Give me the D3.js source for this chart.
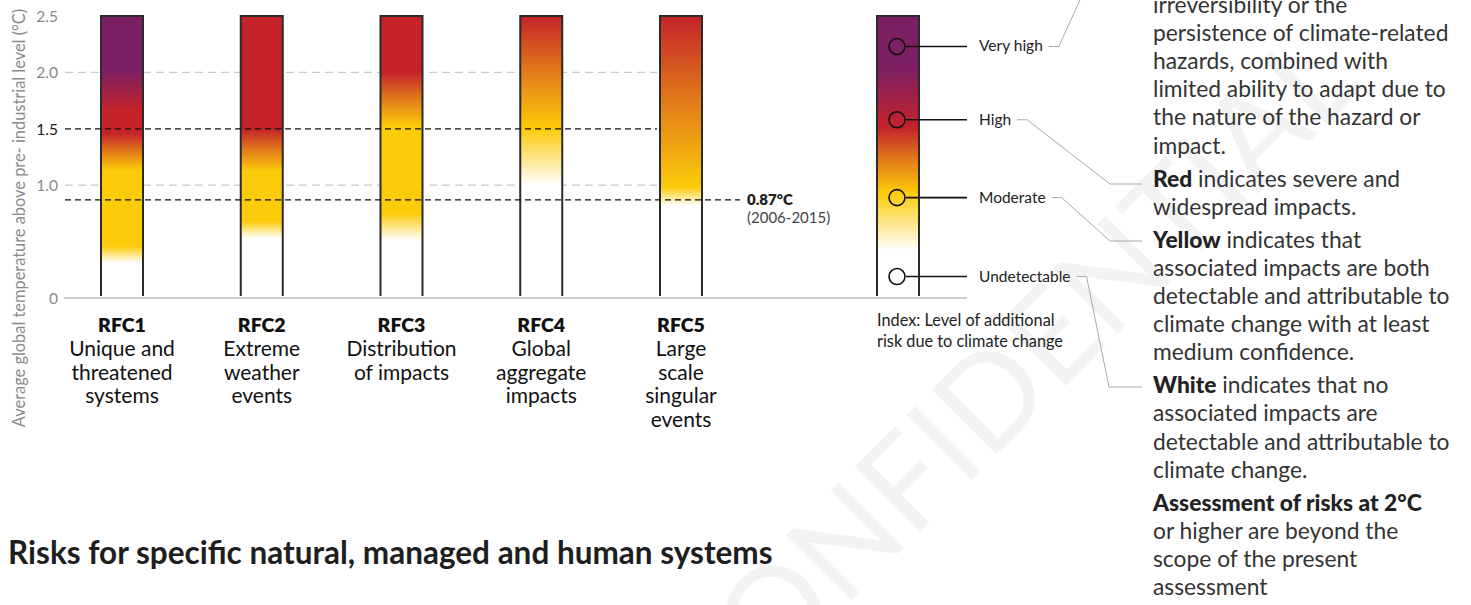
<!DOCTYPE html>
<html>
<head>
<meta charset="utf-8">
<script src="https://cdn.jsdelivr.net/npm/d3@7"></script>
<style>
html, body { margin: 0; padding: 0; background: #fff; }
svg { display: block; font-family: Lato, "Noto Sans", sans-serif; }
</style>
</head>
<body>
<svg id="chart" width="1471" height="605"></svg>
<script>
// categories and their labels
var categories = ["RFC1", "RFC2", "RFC3", "RFC4", "RFC5"];
var categoryLines = [
    ["Unique and", "threatened", "systems"],
    ["Extreme", "weather", "events"],
    ["Distribution", "of impacts"],
    ["Global", "aggregate", "impacts"],
    ["Large", "scale", "singular", "events"]
];

// risk transitions per RFC: [temperature °C, risk level]
// level 0 = white (undetectable), 1 = yellow, 2 = red, 3 = purple
var rfc1Stops = [[0.31, 0], [0.46, 1], [1.13, 1], [1.46, 2], [1.66, 2], [2.02, 3], [2.5, 3]];
var rfc2Stops = [[0.53, 0], [0.68, 1], [1.12, 1], [1.5, 2], [2.5, 2]];
var rfc3Stops = [[0.51, 0], [0.75, 1], [1.52, 1], [2.0, 2], [2.5, 2]];
var rfc4Stops = [[1.0, 0], [1.5, 1], [2.5, 2]];
var rfc5Stops = [[0.82, 0], [0.98, 1], [2.5, 2]];
var rfcStops = [rfc1Stops, rfc2Stops, rfc3Stops, rfc4Stops, rfc5Stops];

// y axis
var yTicks = [0, 1.0, 1.5, 2.0, 2.5];
var greyLines = [1.0, 2.0];
var blackLines = [1.5, 0.87];
var recentWarming = 0.87;

// index legend
var legendLabels = ["Very high", "High", "Moderate", "Undetectable"];
var legendValues = [2.23, 1.58, 0.89, 0.19];
var legendStops = [[0.42, 0], [0.93, 1], [1.51, 2], [2.04, 3], [2.5, 3]];

// explanation text on the right
var notes = [
    { bold: "", lines: ["irreversibility or the", "persistence of climate-related", "hazards, combined with", "limited ability to adapt due to", "the nature of the hazard or", "impact."] },
    { bold: "Red", lines: [" indicates severe and", "widespread impacts."] },
    { bold: "Yellow", lines: [" indicates that", "associated impacts are both", "detectable and attributable to", "climate change with at least", "medium confidence."] },
    { bold: "White", lines: [" indicates that no", "associated impacts are", "detectable and attributable to", "climate change."] },
    { bold: "Assessment of risks at 2°C", lines: ["", "or higher are beyond the", "scope of the present", "assessment"] }
];

var svg = d3.select("#chart");

var y = d3.scaleLinear().domain([0, 2.5]).range([298, 16]);
var x = d3.scalePoint().domain(categories).range([122, 681]);
var barW = 42;
var legendX = 898;

var levelColor = d3.scaleLinear()
    .domain([0, 1, 1.5, 2, 3])
    .range(["#ffffff", "#fccb0a", "#e27c1a", "#c4232a", "#7c1f63"]);

// watermark
svg.append("text")
    .attr("transform", "translate(1003,378) rotate(-45)")
    .attr("text-anchor", "middle")
    .attr("dominant-baseline", "central")
    .style("font-size", "128px")
    .style("font-weight", 400)
    .style("fill", "#f3f3f3")
    .text("CONFIDENTIAL");

var defs = svg.append("defs");

function makeGradient(id, stops) {
    var g = defs.append("linearGradient")
        .attr("id", id)
        .attr("gradientUnits", "userSpaceOnUse")
        .attr("x1", 0).attr("x2", 0)
        .attr("y1", y(0)).attr("y2", y(2.5));
    var pts = [];
    stops.forEach(function(s, i) {
        if (i === 0) { pts.push(s); return; }
        var p = stops[i - 1];
        for (var k = 1; k <= 6; k++) {
            var f = k / 6;
            pts.push([p[0] + (s[0] - p[0]) * f, p[1] + (s[1] - p[1]) * f]);
        }
    });
    g.selectAll("stop").data(pts).enter().append("stop")
        .attr("offset", function(d) { return d[0] / 2.5; })
        .attr("stop-color", function(d) { return levelColor(d[1]); });
}

rfcStops.forEach(function(s, i) { makeGradient("grad" + i, s); });
makeGradient("gradLegend", legendStops);

// grey dashed gridlines
svg.append("g").selectAll("line").data(greyLines).enter().append("line")
    .attr("x1", 65).attr("x2", 657)
    .attr("y1", function(d) { return y(d); })
    .attr("y2", function(d) { return y(d); })
    .attr("stroke", "#c9c9c9")
    .attr("stroke-width", 1.2)
    .attr("stroke-dasharray", "8,5");

// baseline
svg.append("line")
    .attr("x1", 64).attr("x2", 967)
    .attr("y1", y(0)).attr("y2", y(0))
    .attr("stroke", "#bdbdbd").attr("stroke-width", 1.5);

// bars
var bars = svg.append("g").selectAll("g").data(categories).enter().append("g");
bars.append("rect")
    .attr("x", function(d) { return x(d) - barW / 2; })
    .attr("y", y(2.5))
    .attr("width", barW)
    .attr("height", y(0) - 2 - y(2.5))
    .attr("fill", function(d, i) { return "url(#grad" + i + ")"; });
bars.append("path")
    .attr("d", function(d) {
        var x0 = x(d) - barW / 2, x1 = x(d) + barW / 2;
        return "M" + x0 + "," + (y(0) - 2) + "V" + y(2.5) + "H" + x1 + "V" + (y(0) - 2);
    })
    .attr("fill", "none").attr("stroke", "#2b2b2b").attr("stroke-width", 2);

// black dashed reference lines
svg.append("g").selectAll("line").data(blackLines).enter().append("line")
    .attr("x1", 65)
    .attr("x2", function(d) { return d === recentWarming ? 740 : 657; })
    .attr("y1", function(d) { return y(d); })
    .attr("y2", function(d) { return y(d); })
    .attr("stroke", "#111")
    .attr("stroke-width", 1.3)
    .attr("stroke-dasharray", "6,4");

svg.append("text")
    .attr("x", 747).attr("y", y(recentWarming) + 5)
    .style("font-size", "15px").style("font-weight", 800).style("fill", "#222")
    .text(recentWarming + "°C");
svg.append("text")
    .attr("x", 747).attr("y", y(recentWarming) + 23)
    .style("font-size", "15px").style("fill", "#444")
    .text("(2006-2015)");

// y axis
var yAxis = svg.append("g")
    .attr("transform", "translate(58,0)")
    .call(d3.axisLeft(y).tickValues(yTicks).tickSize(0).tickPadding(0)
        .tickFormat(function(d) { return d === 0 ? "0" : d3.format(".1f")(d); }));
yAxis.select(".domain").remove();
yAxis.selectAll("text")
    .attr("dy", "0.35em")
    .style("font-family", "Lato, sans-serif")
    .style("font-size", "15.5px")
    .style("fill", function(d) { return d === 1.5 ? "#1a1a1a" : "#8a8a8a"; });

svg.append("text")
    .attr("transform", "translate(25,218) rotate(-90)")
    .attr("text-anchor", "middle")
    .style("font-size", "16.4px").style("fill", "#8a8a8a")
    .text("Average global  temperature above pre- industrial level (°C)");

// category labels
var labels = svg.append("g").selectAll("text").data(categories).enter().append("text")
    .attr("text-anchor", "middle")
    .style("fill", "#111");
labels.append("tspan")
    .attr("x", function(d) { return x(d); })
    .attr("y", 332)
    .style("font-weight", 800).style("font-size", "19.5px")
    .text(function(d) { return d; });
labels.each(function(d, i) {
    var t = d3.select(this);
    categoryLines[i].forEach(function(line, j) {
        t.append("tspan")
            .attr("x", x(d))
            .attr("y", 356 + j * 23.5)
            .style("font-size", "21px")
            .text(line);
    });
});

// index legend bar
svg.append("rect")
    .attr("x", legendX - barW / 2).attr("y", y(2.5))
    .attr("width", barW).attr("height", y(0) - 2 - y(2.5))
    .attr("fill", "url(#gradLegend)");
svg.append("path")
    .attr("d", "M" + (legendX - barW / 2) + "," + (y(0) - 2) + "V" + y(2.5) + "H" + (legendX + barW / 2) + "V" + (y(0) - 2))
    .attr("fill", "none").attr("stroke", "#2b2b2b").attr("stroke-width", 2);

var leg = svg.append("g").selectAll("g").data(legendLabels).enter().append("g");
leg.append("line")
    .attr("x1", legendX + 8).attr("x2", 967)
    .attr("y1", function(d, i) { return y(legendValues[i]); })
    .attr("y2", function(d, i) { return y(legendValues[i]); })
    .attr("stroke", "#111").attr("stroke-width", 1.6);
leg.append("circle")
    .attr("cx", legendX - 1)
    .attr("cy", function(d, i) { return y(legendValues[i]); })
    .attr("r", 8)
    .attr("fill", function(d, i) { return i === 3 ? "#fff" : "none"; })
    .attr("stroke", "#111").attr("stroke-width", 1.6);
var legText = leg.append("text")
    .attr("x", 979)
    .attr("y", function(d, i) { return y(legendValues[i]) + 5; })
    .style("font-size", "15.5px").style("fill", "#222")
    .text(function(d) { return d; });

// grey leader lines to the notes
var leaderMid = [[[1080, 0]], [[1110, 184], [1142, 184]], [[1110, 241], [1142, 241]], [[1109, 387], [1142, 387]]];
var line = d3.line();
legText.each(function(d, i) {
    var ly = y(legendValues[i]);
    var x0 = 979 + this.getComputedTextLength() + 6;
    var pts = [[x0, ly], [x0 + 10, ly]].concat(leaderMid[i]);
    svg.append("path")
        .attr("d", line(pts))
        .attr("fill", "none").attr("stroke", "#a9a9a9").attr("stroke-width", 1);
});

svg.append("text")
    .attr("x", 877).attr("y", 326)
    .style("font-size", "16.3px").style("fill", "#222")
    .text("Index: Level of additional");
svg.append("text")
    .attr("x", 877).attr("y", 347)
    .style("font-size", "16.3px").style("fill", "#222")
    .text("risk due to climate change");

// notes on the right
var noteY = 13;
var notesG = svg.append("g").style("font-size", "22.8px").style("fill", "#333");
notes.forEach(function(p, pi) {
    if (pi > 0) noteY += 5;
    p.lines.forEach(function(l, li) {
        if (p.bold && li === 0) {
            var t = notesG.append("text").attr("x", 1153).attr("y", noteY);
            t.append("tspan").style("font-weight", 900).style("fill", "#222").text(p.bold);
            if (l) t.append("tspan").text(l);
        } else if (li > 0 || !p.bold) {
            notesG.append("text").attr("x", 1153).attr("y", noteY).text(l);
        }
        noteY += 28.1;
    });
});

// section title
svg.append("text")
    .attr("x", 8).attr("y", 564)
    .style("font-size", "31.5px").style("font-weight", 700).style("fill", "#1e1e1e")
    .text("Risks for specific natural, managed and human systems");
</script>
</body>
</html>
